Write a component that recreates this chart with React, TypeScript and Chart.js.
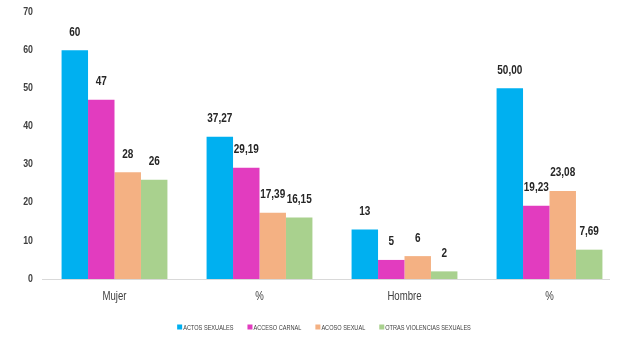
import React, { useEffect, useRef } from "react";
import { Chart, registerables } from "chart.js";

Chart.register(...registerables);

const categories = ["Mujer", "%", "Hombre", "%"];
const seriesNames = ["ACTOS SEXUALES", "ACCESO CARNAL", "ACOSO SEXUAL", "OTRAS VIOLENCIAS SEXUALES"];
const actosSexuales = [60, 37.27, 13, 50.0];
const accesoCarnal = [47, 29.19, 5, 19.23];
const acosoSexual = [28, 17.39, 6, 23.08];
const otrasViolencias = [26, 16.15, 2, 7.69];
const labelDecimals = [0, 2, 0, 2];
const yTicks = [0, 10, 20, 30, 40, 50, 60, 70];
const seriesColors = ["#00B0F0", "#E23CBF", "#F4B183", "#A9D18E"];

const FONT = "'Liberation Sans', Arial, sans-serif";
const TEXT = "#404040";
const SQUEEZE = 0.8;

function fmt(v: number, d: number) {
  return v.toFixed(d).replace(".", ",");
}

function drawSqueezed(ctx: any, text: string, x: number, y: number, align: string, squeeze: number) {
  ctx.save();
  ctx.translate(x, y);
  ctx.scale(squeeze, 1);
  ctx.textAlign = align;
  ctx.fillText(text, 0, 0);
  ctx.restore();
}

function measureSqueezed(ctx: any, text: string, squeeze: number) {
  return ctx.measureText(text).width * squeeze;
}

const axisLine = {
  id: "axisLine",
  beforeDatasetsDraw(chart: any) {
    const ctx = chart.ctx;
    const ca = chart.chartArea;
    ctx.save();
    ctx.strokeStyle = "#D9D9D9";
    ctx.lineWidth = 1;
    ctx.beginPath();
    ctx.moveTo(ca.left, ca.bottom + 0.5);
    ctx.lineTo(ca.right - 12, ca.bottom + 0.5);
    ctx.stroke();
    ctx.restore();
  },
};

const textPlugin = {
  id: "textPlugin",
  afterDraw(chart: any) {
    const ctx = chart.ctx;
    const xs = chart.scales.x;
    const ys = chart.scales.y;
    ctx.save();
    ctx.textBaseline = "middle";

    // y-axis tick labels
    ctx.font = `bold 10px ${FONT}`;
    ctx.fillStyle = TEXT;
    yTicks.forEach((v) => {
      drawSqueezed(ctx, String(v), ys.right - 9, ys.getPixelForValue(v), "right", 0.88);
    });

    // x-axis category labels
    ctx.font = `12px ${FONT}`;
    ctx.fillStyle = TEXT;
    categories.forEach((c, i) => {
      drawSqueezed(ctx, c, xs.getPixelForValue(i), xs.top + 18, "center", SQUEEZE);
    });

    // data labels
    ctx.font = `bold 12.5px ${FONT}`;
    ctx.fillStyle = "#262626";
    chart.data.datasets.forEach((ds: any, di: number) => {
      const meta = chart.getDatasetMeta(di);
      meta.data.forEach((el: any, i: number) => {
        drawSqueezed(ctx, fmt(ds.data[i], labelDecimals[i]), el.x, el.y - 18, "center", SQUEEZE);
      });
    });

    // legend
    ctx.font = `7px ${FONT}`;
    const box = 5;
    const gap = 1;
    const itemGap = 14;
    const widths = seriesNames.map((n) => box + gap + measureSqueezed(ctx, n, SQUEEZE));
    const total = widths.reduce((a, b) => a + b, 0) + itemGap * (widths.length - 1);
    const ca = chart.chartArea;
    let x = (ca.left + ca.right) / 2 - total / 2 - 8;
    const y = 328;
    seriesNames.forEach((n, i) => {
      ctx.fillStyle = seriesColors[i];
      ctx.fillRect(x, y - box / 2 - 1, box, box);
      ctx.fillStyle = TEXT;
      drawSqueezed(ctx, n, x + box + gap, y, "left", SQUEEZE);
      x += widths[i] + itemGap;
    });
    ctx.restore();
  },
};

export default function App() {
  const ref = useRef<HTMLCanvasElement | null>(null);
  useEffect(() => {
    if (!ref.current) return;
    const data = [actosSexuales, accesoCarnal, acosoSexual, otrasViolencias];
    const chart = new Chart(ref.current, {
      type: "bar",
      data: {
        labels: categories,
        datasets: seriesNames.map((name, i) => ({
          label: name,
          data: data[i],
          backgroundColor: seriesColors[i],
          borderWidth: 0,
          categoryPercentage: 0.73,
          barPercentage: 1,
        })),
      },
      options: {
        responsive: false,
        animation: false,
        devicePixelRatio: 1,
        layout: { padding: { top: 12, right: 6, left: 0, bottom: 0 } },
        plugins: {
          legend: { display: false },
          tooltip: { enabled: false },
        },
        scales: {
          x: {
            grid: { display: false, drawTicks: false },
            border: { display: false },
            ticks: { display: false },
            afterFit: (s: any) => {
              s.height = 63;
            },
          },
          y: {
            min: 0,
            max: 70,
            grid: { display: false, drawTicks: false },
            border: { display: false },
            afterBuildTicks: (s: any) => {
              s.ticks = yTicks.map((v) => ({ value: v }));
            },
            ticks: { display: false },
            afterFit: (s: any) => {
              s.width = 42;
            },
          },
        },
      },
      plugins: [axisLine, textPlugin],
    });
    return () => chart.destroy();
  }, []);
  return (
    <div style={{ position: "absolute", left: 0, top: 0, width: 628, height: 342, background: "#fff" }}>
      <canvas ref={ref} width={628} height={342} />
    </div>
  );
}
